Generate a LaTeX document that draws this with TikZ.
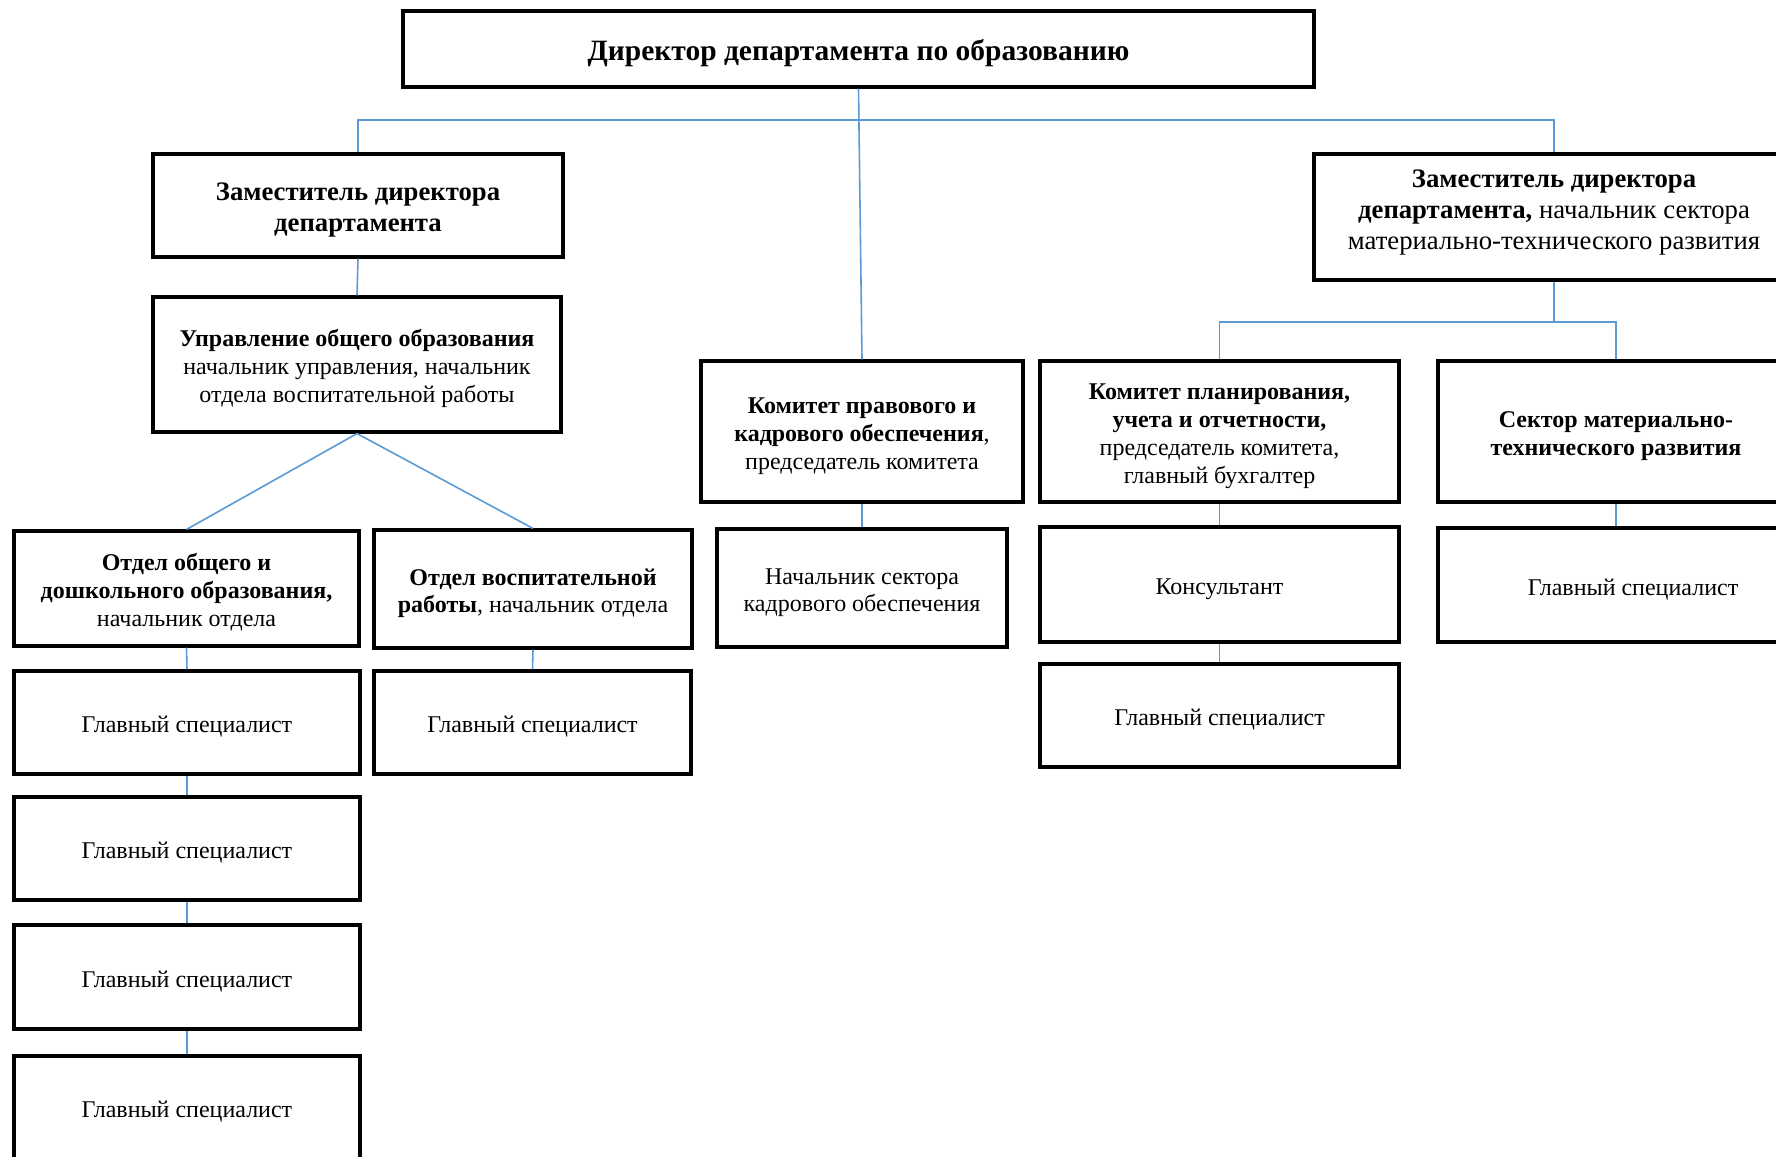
\documentclass[tikz,border=0pt]{standalone}
\usepackage{fontspec}
\setmainfont{Liberation Serif}
\definecolor{conn}{HTML}{5B9BD5}
\newcommand{\bxt}[2][-4.5pt]{\raisebox{#1}[\height][\depth]{\begin{tabular}{@{}c@{}}#2\end{tabular}}}
\begin{document}
\begin{tikzpicture}[x=1pt,y=-1pt,
  box/.style={draw=black, line width=3.1pt, inner sep=0pt, fill=white,
    font=\fontsize{24}{27.8}\selectfont},
  bigtext/.style={font=\fontsize{26.7}{31}\selectfont},
  link/.style={draw=conn, line width=1.6pt}]
\useasboundingbox (0,0) rectangle (1776,1156);
\fill[white] (0,0) rectangle (1776,1156);

\node[box, minimum width=911pt, minimum height=76pt, font=\fontsize{29.5}{33}\selectfont\bfseries] (dir) at (858.5,49) {\bxt{Директор департамента по образованию}};

\node[box, bigtext, minimum width=410pt, minimum height=103pt] (zl) at (358,205.5) {\bxt{\textbf{Заместитель директора}\\\textbf{департамента}}};
\node[box, bigtext, minimum width=480pt, minimum height=126pt] (zr) at (1554,217) {\bxt[5pt]{\textbf{Заместитель директора}\\\textbf{департамента,} начальник сектора\\материально-технического развития}};

\node[box, minimum width=408pt, minimum height=135pt] (up) at (357,364.5) {\bxt{\textbf{Управление общего образования}\\начальник управления, начальник\\отдела воспитательной работы}};

\node[box, minimum width=345pt, minimum height=115pt] (oo) at (186.5,588.5) {\bxt{\textbf{Отдел общего и}\\\textbf{дошкольного образования,}\\начальник отдела}};
\node[box, minimum width=318pt, minimum height=118pt] (ov) at (533,589) {\bxt{\textbf{Отдел воспитательной}\\\textbf{работы}, начальник отдела}};

\node[box, minimum width=322pt, minimum height=141pt] (kp) at (862,431.5) {\bxt{\textbf{Комитет правового и}\\\textbf{кадрового обеспечения},\\председатель комитета}};
\node[box, minimum width=290pt, minimum height=118pt] (ns) at (862,588) {\bxt{Начальник сектора\\кадрового обеспечения}};

\node[box, minimum width=359pt, minimum height=141pt] (kpl) at (1219.5,431.5) {\bxt{\textbf{Комитет планирования,}\\\textbf{учета и отчетности,}\\председатель комитета,\\главный бухгалтер}};
\node[box, minimum width=359pt, minimum height=115pt] (ks) at (1219.5,584.5) {\bxt{Консультант}};
\node[box, minimum width=359pt, minimum height=103pt] (gsk) at (1219.5,715.5) {\bxt{Главный специалист}};

\node[box, minimum width=356pt, minimum height=141pt] (sm) at (1616,431.5) {\bxt{\textbf{Сектор материально-}\\\textbf{технического развития}}};
\node[box, minimum width=390pt, minimum height=114pt] (gsr) at (1633,585) {\bxt{Главный специалист}};

\node[box, minimum width=317pt, minimum height=103pt] (gsv) at (532.5,722.5) {\bxt{Главный специалист}};

\node[box, minimum width=346pt, minimum height=103pt] (gs1) at (187,722.5) {\bxt{Главный специалист}};
\node[box, minimum width=346pt, minimum height=103pt] (gs2) at (187,848.5) {\bxt{Главный специалист}};
\node[box, minimum width=346pt, minimum height=104pt] (gs3) at (187,977) {\bxt{Главный специалист}};
\node[box, minimum width=346pt, minimum height=103pt] (gs4) at (187,1107.5) {\bxt{Главный специалист}};

\coordinate (bus) at (858.5,120);
\coordinate (bus2) at (1554,322);

\draw[link] (dir.south) -- (kp.north);
\draw[link] (zl.north) -- (zl.north |- bus) -- (zr.north |- bus) -- (zr.north);
\draw[link] (zl.south) -- (up.north);
\draw[link] (up.south) -- (oo.north);
\draw[link] (up.south) -- (ov.north);
\draw[link] (oo.south) -- (gs1.north);
\draw[link] (gs1.south) -- (gs2.north);
\draw[link] (gs2.south) -- (gs3.north);
\draw[link] (gs3.south) -- (gs4.north);
\draw[link] (ov.south) -- (gsv.north);
\draw[link] (kp.south) -- (ns.north);
\draw[link] (zr.south) -- (bus2);
\draw[link] (kpl.north) -- (kpl.north |- bus2) -- (sm.north |- bus2) -- (sm.north);
\draw[link] (kpl.south) -- (ks.north);
\draw[link] (ks.south) -- (gsk.north);
\draw[link] (sm.south) -- (sm.south |- gsr.north);
\end{tikzpicture}
\end{document}
